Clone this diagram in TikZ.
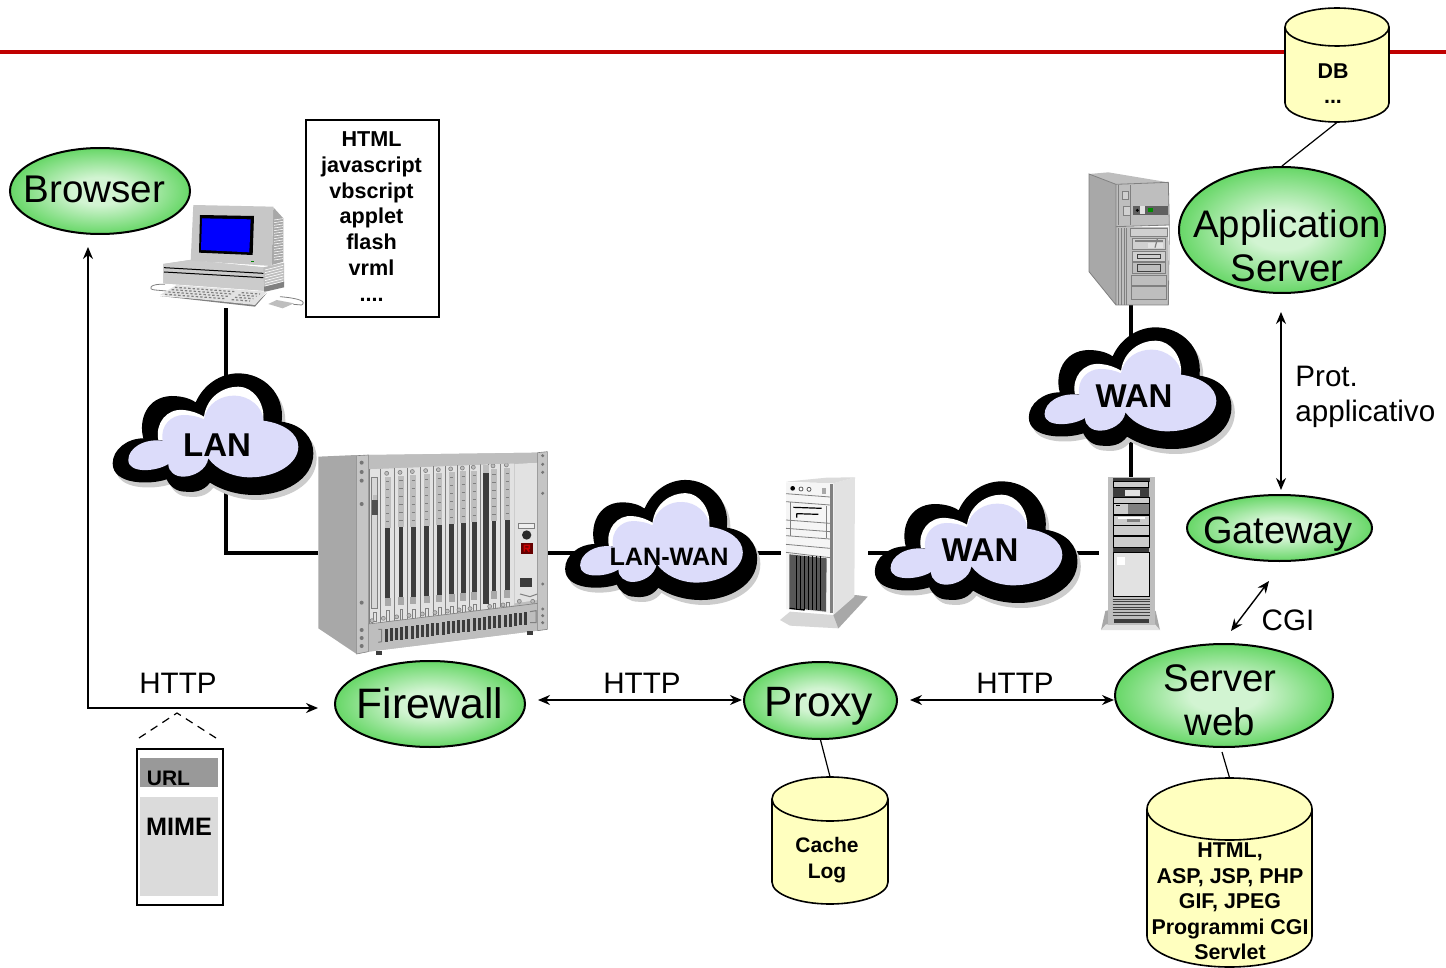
\documentclass[tikz,border=0pt]{standalone}
\usepackage{fontspec}
\setmainfont{Liberation Sans}
\usetikzlibrary{shapes.geometric,arrows.meta,backgrounds}
\definecolor{ballout}{HTML}{22C422}
\definecolor{ballin}{HTML}{D2F4D2}
\definecolor{drumfill}{HTML}{FFFFBF}
\definecolor{cloudfill}{HTML}{DCDCFA}
\definecolor{redline}{HTML}{C00000}
\definecolor{gA}{HTML}{A8A8A8}
\definecolor{gB}{HTML}{BEBEBE}
\definecolor{gC}{HTML}{E2E2E2}
\definecolor{gD}{HTML}{3C3C3C}
\pgfdeclareradialshading{greenball}{\pgfpoint{0bp}{0bp}}{color(0bp)=(ballin); color(8bp)=(ballin); color(36bp)=(ballout); color(50bp)=(ballout)}
\tikzset{
  ball/.style 2 args={ellipse,draw=black,line width=1pt,shading=greenball,inner sep=0pt,minimum width=#1*0.5pt,minimum height=#2*0.5pt},
  balltext/.style={inner sep=0pt,align=center,font=\fontsize{#1}{22}\selectfont},
  wire/.style={line width=2pt},
  arr/.style={line width=.7pt,{Stealth[length=6pt,width=5pt]}-{Stealth[length=6pt,width=5pt]}},
  thin line/.style={line width=.6pt},
  boldtext/.style={inner sep=0pt,align=center,font=\fontsize{#1}{20}\selectfont\bfseries},
  plain label/.style={inner sep=0pt,font=\fontsize{14.8}{17.5}\selectfont},
}
\newcommand{\cloudouter}{(38,820) .. controls (38,780) and (80,745) .. (130,745)
 .. controls (115,690) and (140,620) .. (215,618)
 .. controls (245,618) and (270,625) .. (287,637)
 .. controls (310,585) and (360,550) .. (415,550)
 .. controls (490,550) and (555,610) .. (545,695)
 .. controls (610,705) and (640,745) .. (640,790)
 .. controls (640,870) and (550,915) .. (465,915)
 .. controls (410,915) and (365,900) .. (330,878)
 .. controls (310,905) and (280,908) .. (255,905)
 .. controls (230,905) and (210,890) .. (200,868)
 .. controls (150,885) and (38,885) .. (38,820) -- cycle}
\newcommand{\cloudshape}[4]{%
 \begin{scope}[shift={(#1,#2)},xscale=#3*0.33333,yscale=#4*0.33333]
  \begin{scope}[shift={(10,15)}]\fill[black!20] \cloudouter;\end{scope}
  \fill[black] \cloudouter;
  \fill[white] (175,750) .. controls (165,700) and (200,655) .. (250,660) .. controls (275,662) and (295,670) .. (312,680) .. controls (320,620) and (370,590) .. (415,590) .. controls (460,590) and (495,640) .. (490,690) -- (300,760) -- cycle;
  \fill[cloudfill] (85,810) .. controls (85,775) and (130,745) .. (188,752) .. controls (180,705) and (215,675) .. (250,675) .. controls (275,675) and (295,680) .. (312,688) .. controls (320,640) and (365,615) .. (405,617) .. controls (445,617) and (490,650) .. (490,692) .. controls (550,700) and (595,730) .. (595,770) .. controls (595,820) and (530,862) .. (450,862) .. controls (400,862) and (350,840) .. (325,805) .. controls (320,840) and (280,860) .. (250,860) .. controls (225,860) and (205,845) .. (205,822) .. controls (170,845) and (85,852) .. (85,810) -- cycle;
 \end{scope}}
\newcommand{\drum}[5]{% x1 x2 ytop ybot ry
 \pgfmathsetmacro{\dcx}{(#1+#2)/2}\pgfmathsetmacro{\drx}{(#2-#1)/2}
 \path[fill=drumfill,draw=black,line width=.8pt] (#1,#3+#5) -- (#1,#4-#5) .. controls (#1,#4-.45*#5) and (\dcx-.55*\drx,#4) .. (\dcx,#4) .. controls (\dcx+.55*\drx,#4) and (#2,#4-.45*#5) .. (#2,#4-#5) -- (#2,#3+#5);
 \path[fill=drumfill,draw=black,line width=.8pt] (#1,#3+#5) .. controls (#1,#3+.45*#5) and (\dcx-.55*\drx,#3) .. (\dcx,#3) .. controls (\dcx+.55*\drx,#3) and (#2,#3+.45*#5) .. (#2,#3+#5) .. controls (#2,#3+1.55*#5) and (\dcx+.55*\drx,#3+2*#5) .. (\dcx,#3+2*#5) .. controls (\dcx-.55*\drx,#3+2*#5) and (#1,#3+1.55*#5) .. (#1,#3+#5) -- cycle;
}
\begin{document}
\begin{tikzpicture}[x=.5pt,y=-.5pt]
\useasboundingbox (0,0) rectangle (1446,968);
\begin{pgfonlayer}{background}
 \fill[white] (0,0) rectangle (1446,968);
 \draw[redline,line width=1.8pt] (0,52) -- (1446,52);
\end{pgfonlayer}

% ---------- equipment anchors
\node[inner sep=0pt,minimum width=78pt,minimum height=51.5pt] (pc) at (226,256.5) {};
\node[inner sep=0pt,minimum width=115pt,minimum height=100pt] (rack) at (433,552.5) {};
\node[inner sep=0pt,minimum width=43.5pt,minimum height=76pt] (tower) at (824.5,552.5) {};
\node[inner sep=0pt,minimum width=64*.5pt,minimum height=75pt] (rackb) at (1131,552.5) {};
\node[inner sep=0pt,minimum width=41pt,minimum height=66.5pt] (srv) at (1131,238.5) {};

% ---------- PC
\begin{scope}[shift={(100,190)},scale=.33333]
 \draw[gray,line width=.4pt] (195,283) .. controls (150,280) and (140,298) .. (165,300) -- (200,303);
 \draw[gray,line width=.4pt] (540,320) .. controls (600,325) and (620,335) .. (605,345) -- (580,343);
 \fill[gB] (190,222) -- (270,210) -- (490,232) -- (552,218) -- (552,280) -- (492,302) -- (190,280) -- cycle;
 \fill[gC!35!gB] (190,222) -- (270,210) -- (490,232) -- (492,302) -- (190,280) -- cycle;
 \fill[gray] (492,290) -- (552,275) -- (552,292) -- (492,306) -- cycle;
 \foreach \k in {226,234,...,274} \draw[white,line width=.3pt] (495,\k+14) -- (550,\k);
 \draw[black,line width=.5pt] (192,233) -- (490,250);
 \draw[black,line width=.5pt] (192,246) -- (490,263);
 \fill[gA] (520,52) -- (550,85) -- (550,215) -- (515,225) -- cycle;
 \foreach \k in {90,98,...,210} \draw[white,line width=.3pt] (522,\k) -- (549,\k-4);
 \fill[gC!25!gB] (280,45) -- (520,50) -- (515,228) -- (272,212) -- cycle;
 \fill[black] (300,75) -- (462,78) -- (458,195) -- (297,188) -- cycle;
 \fill[blue] (306,85) -- (452,88) -- (448,187) -- (303,180) -- cycle;
 \fill[green!50!black] (452,213) rectangle (462,216);
 \fill[gray] (180,318) -- (465,350) -- (500,310) -- (465,340) -- cycle;
 \fill[gC] (180,315) -- (230,285) -- (500,305) -- (465,345) -- cycle;
 \foreach \r in {0,1,2,3} {
  \draw[gray,line width=.6pt,dash pattern=on 1.2pt off 1pt] (225-10*\r,292+7*\r) -- (405-10*\r,305+7*\r);
  \draw[gray,line width=.6pt,dash pattern=on 1.2pt off 1pt] (425-10*\r,308+7*\r) -- (480-10*\r,312+7*\r);
 }
 \fill[gB] (505,342) -- (530,330) -- (582,340) -- (548,355) -- cycle;
\end{scope}

% ---------- rack
\begin{scope}[shift={(310,440)},scale=.33333]
 \fill[gA] (25,50) -- (140,45) -- (140,642) -- (25,565) -- cycle;
 \fill[gB] (175,45) -- (683,38) -- (683,572) -- (175,635) -- cycle;
 \fill[gC] (177,88) -- (612,70) -- (612,496) -- (177,552) -- cycle;
 \foreach \xa/\xb in {177/212,212/253,253/292,292/332,332/370,370/407,407/443,443/478,478/512,512/536,536/572,572/612} {
  \draw[gray,line width=.3pt] (\xa,{88-(\xa-177)*.045}) -- (\xa,{552-(\xa-177)*.128});
 }
 \foreach \cx/\sl in {233/0,273/1,310/2,350/3,388/4,425/5,460/6,493/7,552/9,592/10} {
  \pgfmathsetmacro{\dd}{(\cx-233)*.07}
  \fill[gB] (\cx-9,110-\dd) rectangle (\cx+9,265-\dd);
  \foreach \t in {0,1,2,3,4,5} \draw[gray,line width=.3pt] (\cx-5,125-\dd+24*\t) -- (\cx+5,125-\dd+24*\t);
  \fill[gD] (\cx-7,265-\dd) rectangle (\cx+7,475-\dd);
  \fill[gA] (\cx-9,475-\dd) rectangle (\cx+9,498-\dd);
  \draw[gray,line width=.3pt] (\cx-3,512-\dd) rectangle (\cx+5,545-\dd);
  \fill[gB,draw=gray,line width=.3pt] (\cx-3,100-\dd) circle (6);
  \fill[gB,draw=gray,line width=.3pt] (\cx-13,535-\dd*1.6) circle (6);
 }
 \fill[gD] (518,98) rectangle (536,492);
 \fill[gB] (518,75) rectangle (536,98);
 \fill[gC!70!gB,draw=gray,line width=.3pt] (183,112) rectangle (201,505);
 \fill[gD!70!gray] (187,180) rectangle (204,225);
 \fill[gB] (189,165) rectangle (202,180);
 \draw[gray,line width=.3pt] (190,518) rectangle (198,545);
 \fill[gB,draw=gray,line width=.3pt] (186,542) circle (6);
 % right panel
 \fill[gC] (614,72) -- (683,68) -- (683,480) -- (614,490) -- cycle;
 \draw[gray,fill=gC!60!white,line width=.4pt] (625,250) rectangle (672,265);
 \fill[gD!70!black] (650,285) circle (14);
 \fill[red!40!black] (632,310) rectangle (668,342);
 \draw[red!80!black,line width=.8pt] (643,335) -- (643,316) -- (658,316) -- (658,325) -- (643,325) (650,325) -- (658,335);
 \fill[gD] (630,415) rectangle (665,440);
 \draw[gray,line width=.5pt] (630,462) -- (660,470) -- (682,462);
 \foreach \p in {628,668} \fill[gB,draw=gray,line width=.3pt] (\p,484) circle (6);
 % top band & bottom band
 \fill[gB] (175,45) -- (683,38) -- (683,68) -- (175,83) -- cycle;
 \fill[gB] (175,552) -- (683,490) -- (683,572) -- (175,635) -- cycle;
 \draw[gray,line width=.3pt] (175,552) -- (683,490);
 \foreach \i in {0,...,27} {
  \pgfmathsetmacro{\bx}{224+\i*15.5}
  \pgfmathsetmacro{\bt}{567-(\bx-224)*.122}
  \fill[gD] (\bx,\bt) rectangle (\bx+9,\bt+38);
 }
 \draw[gray,line width=.5pt] (205,568) -- (215,568) -- (215,605) -- (205,607);
 \draw[gray,line width=.5pt] (660,515) -- (678,512) -- (678,548) -- (660,548);
 % ears
 \fill[gB!90!white,draw=gray,line width=.3pt] (140,47) -- (175,45) -- (175,635) -- (140,642) -- cycle;
 \fill[gB!90!white,draw=gray,line width=.3pt] (683,38) -- (712,35) -- (712,568) -- (683,572) -- cycle;
 \foreach \y in {68,96,122,192,488,570,594,618} \fill[gA!70!black] (155,\y) circle (6);
 \foreach \y in {47,73,97,160,432,507,527,548} \fill[gA!70!black] (698,\y) circle (5);
 \fill[gD] (198,634) rectangle (215,645);
 \fill[gD] (651,574) rectangle (668,585);
\end{scope}

% ---------- tower
\begin{scope}[shift={(770,465)},scale=.33333]
 \fill[gC!70!gB] (30,465) -- (60,440) -- (190,450) -- (255,390) -- (293,395) -- (205,490) -- (60,482) -- cycle;
 \fill[gA] (190,450) -- (255,390) -- (293,395) -- (205,490) -- cycle;
 \fill[gC] (190,55) -- (255,37) -- (253,395) -- (190,450) -- cycle;
 \fill[gC!80!gB] (48,50) -- (170,38) -- (255,37) -- (190,55) -- cycle;
 \fill[gray!8] (48,52) -- (190,55) -- (190,445) -- (48,432) -- cycle;
 \fill[gray] (180,56) rectangle (190,445);
 \foreach \a/\b in {86/96,110/120,165/175,190/200,212/222,238/250,262/278} \draw[gray,line width=.4pt] (48,\a) -- (180,\b);
 \draw[gray,line width=.4pt] (62,112) -- (62,212);
 \draw[gray,line width=.4pt] (170,122) -- (170,220);
 \draw[black,line width=.6pt] (70,127) -- (155,130);
 \draw[black,line width=.6pt] (80,146) -- (145,148) (80,146) -- (80,158);
 \fill[black] (68,70) circle (7);
 \draw[gray!70!black,fill=white,line width=.4pt] (93,72) circle (6);
 \draw[gray!70!black,fill=white,line width=.4pt] (117,73) circle (6);
 \fill[gA] (157,68) rectangle (167,86);
 \fill[gD!60!gray] (58,268) -- (170,280) -- (168,440) -- (58,428) -- cycle;
 \foreach \k in {78,90,...,160} \draw[black,line width=.4pt] (\k,272) -- (\k,435);
 \fill[black] (58,428) -- (104,433) -- (104,437) -- (58,432) -- cycle;
\end{scope}

% ---------- tall rack
\begin{scope}[shift={(1090,465)},scale=.33333]
 \fill[gA] (33,495) -- (46,438) -- (70,432) -- (70,480) -- cycle;
 \fill[gA] (210,495) -- (197,438) -- (180,432) -- (180,480) -- cycle;
 \fill[gC] (33,495) -- (210,495) -- (195,478) -- (48,478) -- cycle;
 \fill[gB] (55,35) rectangle (195,480);
 \fill[gD] (68,40) rectangle (180,50);
 \draw[black,fill=gC!40!gB,line width=.4pt] (70,50) rectangle (176,67);
 \fill[gD] (70,68) rectangle (176,95);
 \fill[gC] (105,76) rectangle (150,92);
 \fill[gD] (80,82) circle (2);
 \draw[black,fill=gC!40!gB,line width=.4pt] (70,97) rectangle (178,115);
 \draw[black,fill=gC!40!gB,line width=.4pt] (70,115) rectangle (178,148);
 \fill[gray] (115,118) rectangle (176,146);
 \draw[black,line width=.5pt] (78,121) -- (90,121);
 \draw[black,fill=gC!40!gB,line width=.4pt] (70,150) rectangle (178,180);
 \fill[white] (85,155) rectangle (165,163);
 \fill[gray] (110,162) rectangle (150,172);
 \draw[black,fill=gC!40!gB,line width=.4pt] (70,182) rectangle (178,212);
 \draw[black,fill=gC!40!gB,line width=.4pt] (70,214) rectangle (178,247);
 \fill[gD] (70,248) rectangle (178,262);
 \draw[black,fill=gC,line width=.5pt] (70,263) rectangle (178,395);
 \fill[white] (80,275) rectangle (105,300);
 \foreach \k in {402,410,...,450} \draw[gray!50!black,line width=.3pt] (68,\k) -- (180,\k);
 \fill[gD] (72,462) rectangle (176,473);
\end{scope}

% ---------- server
\begin{scope}[shift={(1080,165)},scale=.33333]
 \fill[gA] (27,27) -- (108,58) -- (108,420) -- (27,320) -- cycle;
 \fill[gB] (27,27) -- (85,22) -- (265,52) -- (108,58) -- cycle;
 \fill[gB] (108,58) -- (265,52) -- (268,180) -- (108,185) -- cycle;
 \fill[gB] (108,185) rectangle (265,420);
 \draw[gray,line width=.4pt] (27,27) -- (108,58) -- (265,52) -- (268,180) -- (265,420) -- (108,420) -- (27,320) -- cycle (108,58) -- (108,420);
 \foreach \k in {116,124,132,140} \draw[gray,line width=.3pt] (\k,190) -- (\k,420);
 \foreach \k in {116,150} \draw[gray,line width=.3pt] (\k,60) -- (\k,180);
 \draw[gray,line width=.4pt] (108,185) -- (268,180);
 \draw[gray,fill=gC!50!gB,line width=.3pt] (128,78) rectangle (146,102);
 \draw[gray,fill=gC!50!gB,line width=.3pt] (130,125) rectangle (150,150);
 \fill[gray!75!black] (160,122) rectangle (264,150);
 \fill[black] (172,136) circle (5);
 \fill[gC] (180,124) rectangle (196,148);
 \fill[green!55!black] (204,130) rectangle (220,141);
 \draw[gray,fill=gC!50!gB,line width=.3pt] (152,190) rectangle (262,215);
 \draw[gray,fill=gC!50!gB,line width=.3pt] (158,220) rectangle (256,254);
 \fill[gray] (165,225) rectangle (250,232);
 \fill[gC] (205,235) rectangle (250,250);
 \draw[gray,line width=.6pt] (232,222) -- (225,248);
 \draw[gray,fill=gC!50!gB,line width=.4pt] (158,258) rectangle (256,288);
 \draw[gray!50!black,line width=.4pt] (172,268) rectangle (240,280);
 \draw[gray,line width=.4pt] (158,292) rectangle (256,326);
 \draw[gray!50!black,line width=.4pt] (172,298) rectangle (240,320);
 \draw[gray,line width=.4pt] (155,330) rectangle (258,362);
 \draw[gray,line width=.4pt] (155,365) rectangle (258,402);
\end{scope}

% ---------- clouds
\cloudshape{100}{190}{1}{1}
\node[boldtext=16.5] (lan) at (217,445) {LAN};
\cloudshape{1016}{144}{1.01}{1}
\node[boldtext=16.5] (wana) at (1134,396) {WAN};
\cloudshape{553}{299}{.957}{.987}
\node[boldtext=12.6] (lanwan) at (669,557) {LAN-WAN};
\cloudshape{862}{298}{1.01}{1}
\node[boldtext=16.5] (wanb) at (980,550) {WAN};

% ---------- wires behind equipment and clouds
\begin{pgfonlayer}{background}
 \draw[wire] (pc.south) -- (pc.south |- lan.center);
 \draw[wire] (pc.south |- lan.center) |- (rack.west);
 \draw[wire] (rack.east) -- (rack.east -| lanwan.center);
 \draw[wire] (rack.east -| lanwan.center) -- (tower.west);
 \draw[wire] (tower.east) -- (tower.east -| wanb.center);
 \draw[wire] (tower.east -| wanb.center) -- (rackb.west);
 \draw[wire] (rackb.north) -- (rackb.north |- wana.center);
 \draw[wire] (rackb.north |- wana.center) -- (srv.south);
\end{pgfonlayer}

% ---------- ellipses
\node[ball={180}{86}] (browser) at (100,191) {};
\node[balltext=19.3] (browsertxt) at (94.5,189) {Browser};
\node[ball={206}{126}] (app) at (1282,230) {};
\node[balltext=19.2] (apptxt) at (1287,246) {Application\\Server};
\node[ball={185}{66}] (gate) at (1279.5,528) {};
\node[balltext=19] (gatetxt) at (1278,534) {Gateway};
\node[ball={190}{86}] (fire) at (430,704) {};
\node[balltext=21.3] (firetxt) at (430,703) {Firewall};
\node[ball={153}{77}] (proxy) at (820.5,700.5) {};
\node[balltext=21.2] (proxytxt) at (819,706) {Proxy};
\node[ball={218}{103}] (web) at (1224,695.5) {};
\node[balltext=19.2] (webtxt) at (1220,700) {Server\\web};

% ---------- drums
\drum{1285}{1389}{8}{122}{19}
\node[inner sep=0pt,minimum width=52pt,minimum height=57pt] (db) at (1337,65) {};
\node[boldtext=10.7] (dbt) at (1333,71) {DB};
\node[boldtext=10.7] (dbd) at (1333,102) {...};
\drum{772}{888}{777}{904}{22}
\node[inner sep=0pt,minimum width=58pt,minimum height=63.5pt] (cache) at (830,840.5) {};
\node[inner sep=0pt,align=center,font=\fontsize{10.5}{12.8}\selectfont\bfseries] (cachetxt) at (827,860) {Cache\\Log};
\drum{1147}{1312}{778}{967}{31}
\node[inner sep=0pt,minimum width=82.5pt,minimum height=94.5pt] (store) at (1229.5,872.5) {};
\node[inner sep=0pt,align=center,font=\fontsize{10.7}{12.8}\selectfont\bfseries] (storetxt) at (1230,901.5) {HTML,\\ASP, JSP, PHP\\GIF, JPEG\\Programmi CGI\\Servlet};

% ---------- text box
\node[draw=black,line width=.6pt,inner sep=0pt,minimum width=66.5pt,minimum height=98.5pt] (langs) at (372.5,218.5) {};
\node[inner sep=0pt,align=center,font=\fontsize{10.8}{12.85}\selectfont\bfseries] (langstxt) at (371.5,216.5) {HTML\\javascript\\vbscript\\applet\\flash\\vrml\\....};

% ---------- message
\node[draw=black,line width=1.2pt,inner sep=0pt,minimum width=43pt,minimum height=78pt] (msg) at (180,827) {};
\fill[gray!80] (140,758) rectangle (218,787);
\fill[gray!28] (140,797) rectangle (218,896);
\node[boldtext=10.5] (url) at (168.5,778) {URL};
\node[boldtext=12.6] (mime) at (179,827) {MIME};
\coordinate (dashl) at (139,738);
\coordinate (dashm) at (177,713);
\coordinate (dashr) at (216,738);
\draw[line width=.6pt,dash pattern=on 4pt off 3pt] (dashl) -- (dashm) -- (dashr);

% ---------- connectors
\coordinate (p1) at (88,708);
\coordinate (p2) at (88,247);
\coordinate (p3) at (318,708);
\draw[arr] (p2) -- (p1) -- (p3);
\coordinate (f1) at (538,700);
\coordinate (x1) at (742,700);
\draw[arr] (f1) -- (x1);
\coordinate (x2) at (910,700);
\coordinate (w1) at (1114,700);
\draw[arr] (x2) -- (w1);
\coordinate (g1) at (1281,312);
\coordinate (g2) at (1281,490);
\draw[arr] (g1) -- (g2);
\coordinate (c1) at (1231,631);
\coordinate (c2) at (1269,581);
\draw[arr] (c1) -- (c2);
\draw[thin line] (db.south) -- (app.north);
\draw[thin line] (proxy.south) -- (cache.north);
\coordinate (webfoot) at (1222,752);
\draw[thin line] (webfoot) -- (store.north);

% ---------- labels
\node[plain label] (h1) at (178,683) {HTTP};
\node[plain label] (h2) at (642,683) {HTTP};
\node[plain label] (h3) at (1015,683) {HTTP};
\node[plain label] (cgi) at (1288,620) {CGI};
\node[plain label,anchor=west,align=left] (prot) at (1295,397) {Prot.\\applicativo};
\end{tikzpicture}
\end{document}
